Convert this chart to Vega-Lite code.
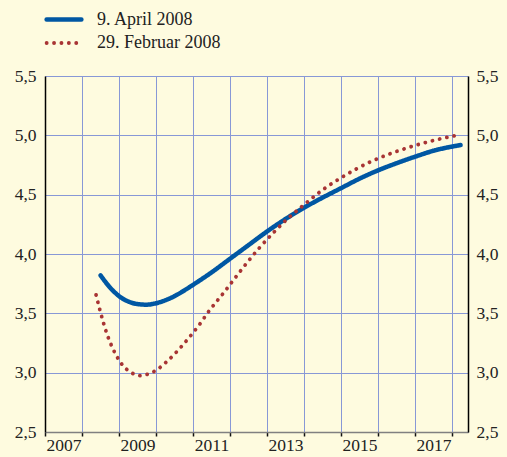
{
  "$schema": "https://vega.github.io/schema/vega-lite/v6.json",
  "width": 423,
  "height": 356,
  "autosize": {"type": "none"},
  "padding": {"left": 45, "top": 76, "right": 39, "bottom": 25},
  "background": "#fefbdf",
  "config": {
    "view": {"stroke": null, "fill": "#fefbdf"},
    "font": "Liberation Serif"
  },
  "data": {
    "values": [
      {"serie": "9. April 2008", "year": 2008.5, "value": 3.82},
      {"serie": "9. April 2008", "year": 2008.75, "value": 3.72},
      {"serie": "9. April 2008", "year": 2009.0, "value": 3.645},
      {"serie": "9. April 2008", "year": 2009.25, "value": 3.60},
      {"serie": "9. April 2008", "year": 2009.5, "value": 3.578},
      {"serie": "9. April 2008", "year": 2009.75, "value": 3.573},
      {"serie": "9. April 2008", "year": 2010.0, "value": 3.585},
      {"serie": "9. April 2008", "year": 2010.25, "value": 3.61},
      {"serie": "9. April 2008", "year": 2010.5, "value": 3.645},
      {"serie": "9. April 2008", "year": 2010.75, "value": 3.69},
      {"serie": "9. April 2008", "year": 2011.0, "value": 3.74},
      {"serie": "9. April 2008", "year": 2011.5, "value": 3.845},
      {"serie": "9. April 2008", "year": 2012.0, "value": 3.96},
      {"serie": "9. April 2008", "year": 2012.5, "value": 4.075},
      {"serie": "9. April 2008", "year": 2013.0, "value": 4.19},
      {"serie": "9. April 2008", "year": 2013.5, "value": 4.295},
      {"serie": "9. April 2008", "year": 2014.0, "value": 4.39},
      {"serie": "9. April 2008", "year": 2014.5, "value": 4.475},
      {"serie": "9. April 2008", "year": 2015.0, "value": 4.555},
      {"serie": "9. April 2008", "year": 2015.5, "value": 4.635},
      {"serie": "9. April 2008", "year": 2016.0, "value": 4.705},
      {"serie": "9. April 2008", "year": 2016.5, "value": 4.765},
      {"serie": "9. April 2008", "year": 2017.0, "value": 4.82},
      {"serie": "9. April 2008", "year": 2017.5, "value": 4.87},
      {"serie": "9. April 2008", "year": 2018.23, "value": 4.918},
      {"serie": "29. Februar 2008", "year": 2008.38, "value": 3.655},
      {"serie": "29. Februar 2008", "year": 2008.49, "value": 3.52},
      {"serie": "29. Februar 2008", "year": 2008.67, "value": 3.33},
      {"serie": "29. Februar 2008", "year": 2008.83, "value": 3.205},
      {"serie": "29. Februar 2008", "year": 2009.04, "value": 3.087},
      {"serie": "29. Februar 2008", "year": 2009.2, "value": 3.03},
      {"serie": "29. Februar 2008", "year": 2009.36, "value": 2.995},
      {"serie": "29. Februar 2008", "year": 2009.57, "value": 2.975},
      {"serie": "29. Februar 2008", "year": 2009.75, "value": 2.985},
      {"serie": "29. Februar 2008", "year": 2009.97, "value": 3.014},
      {"serie": "29. Februar 2008", "year": 2010.3, "value": 3.096},
      {"serie": "29. Februar 2008", "year": 2010.6, "value": 3.19},
      {"serie": "29. Februar 2008", "year": 2010.89, "value": 3.295},
      {"serie": "29. Februar 2008", "year": 2011.16, "value": 3.40},
      {"serie": "29. Februar 2008", "year": 2011.41, "value": 3.51},
      {"serie": "29. Februar 2008", "year": 2011.82, "value": 3.67},
      {"serie": "29. Februar 2008", "year": 2012.34, "value": 3.88},
      {"serie": "29. Februar 2008", "year": 2012.76, "value": 4.04},
      {"serie": "29. Februar 2008", "year": 2013.19, "value": 4.185},
      {"serie": "29. Februar 2008", "year": 2013.53, "value": 4.29},
      {"serie": "29. Februar 2008", "year": 2013.98, "value": 4.41},
      {"serie": "29. Februar 2008", "year": 2014.5, "value": 4.54},
      {"serie": "29. Februar 2008", "year": 2015.04, "value": 4.65},
      {"serie": "29. Februar 2008", "year": 2015.8, "value": 4.778},
      {"serie": "29. Februar 2008", "year": 2016.61, "value": 4.876},
      {"serie": "29. Februar 2008", "year": 2017.44, "value": 4.952},
      {"serie": "29. Februar 2008", "year": 2018.07, "value": 4.997}
    ]
  },
  "layer": [
    {
      "mark": {"type": "line", "interpolate": "monotone", "strokeCap": "round"},
      "encoding": {
        "x": {
          "field": "year", "type": "quantitative",
          "scale": {"domain": [2007, 2018.43], "nice": false, "zero": false},
          "axis": {
            "title": null, "orient": "bottom",
            "values": [2007, 2008, 2009, 2010, 2011, 2012, 2013, 2014, 2015, 2016, 2017, 2018],
            "labels": false,
            "domainColor": "#808080", "domainWidth": 1.5,
            "ticks": true, "tickColor": "#111111", "tickSize": 4, "tickWidth": 1.5,
            "grid": true, "gridColor": "#8898d6", "gridWidth": 1
          }
        },
        "y": {
          "field": "value", "type": "quantitative",
          "scale": {"domain": [2.5, 5.5], "nice": false, "zero": false},
          "axis": {
            "title": null, "orient": "left",
            "values": [2.5, 3, 3.5, 4, 4.5, 5, 5.5],
            "labelExpr": "replace(format(datum.value, '.1f'), '.', ',')",
            "labelFont": "Liberation Serif", "labelFontSize": 17.5, "labelColor": "#222222",
            "labelPadding": 9, "ticks": false,
            "domainColor": "#000000", "domainWidth": 1.5,
            "grid": true, "gridColor": "#8898d6", "gridWidth": 1
          }
        },
        "color": {
          "field": "serie", "type": "nominal",
          "scale": {"domain": ["9. April 2008", "29. Februar 2008"], "range": ["#0057a3", "#a83434"]},
          "legend": {
            "title": null, "orient": "none", "legendX": 4.5, "legendY": -71,
            "direction": "vertical", "padding": 0, "rowPadding": 0,
            "symbolType": "M-1.45,0H1.45", "symbolSize": 576, "labelOffset": 18.5,
            "labelFont": "Liberation Serif", "labelFontSize": 18, "labelColor": "#222222",
            "labelLimit": 300,
            "encode": {"symbols": {"update": {"strokeCap": {"value": "round"}, "fillOpacity": {"value": 0}}}}
          }
        },
        "strokeDash": {
          "field": "serie", "type": "nominal",
          "scale": {"domain": ["9. April 2008", "29. Februar 2008"], "range": [[1, 0], [0.1, 7.3]]},
          "legend": null
        },
        "strokeWidth": {
          "field": "serie", "type": "nominal",
          "scale": {"domain": ["9. April 2008", "29. Februar 2008"], "range": [4.5, 3.8]},
          "legend": null
        },
        "order": {"field": "year", "type": "quantitative"}
      }
    },
    {
      "mark": {"type": "line", "opacity": 0},
      "encoding": {
        "x": {
          "field": "year", "type": "quantitative",
          "axis": {
            "title": null, "orient": "bottom",
            "values": [2007.5, 2009.5, 2011.5, 2013.5, 2015.5, 2017.5],
            "labelExpr": "'' + floor(datum.value)",
            "labelFont": "Liberation Serif", "labelFontSize": 17.5, "labelColor": "#222222",
            "labelPadding": 4, "labelFlush": false, "labelOverlap": false,
            "domain": false, "ticks": false, "grid": false
          }
        },
        "y": {
          "field": "value", "type": "quantitative",
          "axis": {
            "title": null, "orient": "right",
            "values": [2.5, 3, 3.5, 4, 4.5, 5, 5.5],
            "labelExpr": "replace(format(datum.value, '.1f'), '.', ',')",
            "labelFont": "Liberation Serif", "labelFontSize": 17.5, "labelColor": "#222222",
            "labelPadding": 8, "ticks": false,
            "domainColor": "#000000", "domainWidth": 1.5,
            "grid": false
          }
        },
        "detail": {"field": "serie"}
      }
    }
  ],
  "resolve": {"axis": {"x": "independent", "y": "independent"}}
}
